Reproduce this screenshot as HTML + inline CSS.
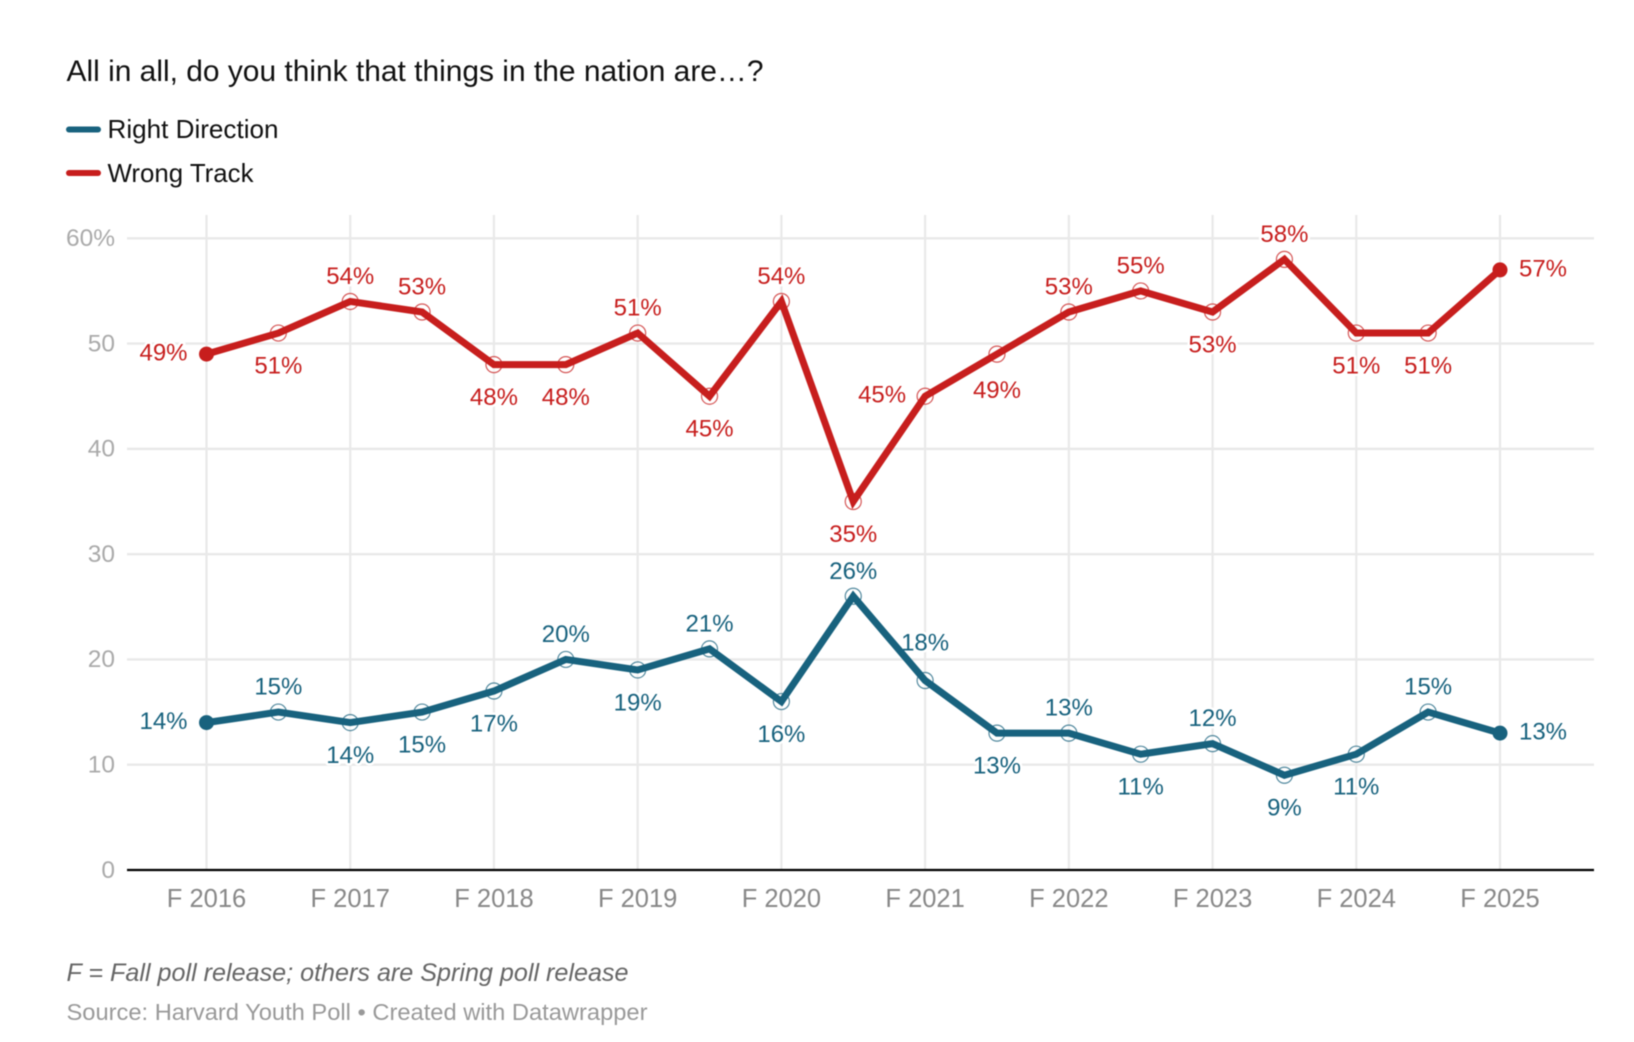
<!DOCTYPE html>
<html lang="en">
<head>
<meta charset="utf-8">
<title>All in all, do you think that things in the nation are…?</title>
<style>
html,body{margin:0;padding:0;background:#fff;}
body{width:1634px;height:1042px;overflow:hidden;}
svg{display:block;font-family:"Liberation Sans",sans-serif;filter:blur(0.4px);}
</style>
</head>
<body>
<svg id="chart" width="1634" height="1042" viewBox="0 0 1634 1042" xmlns="http://www.w3.org/2000/svg">
  <rect x="0" y="0" width="1634" height="1042" fill="#ffffff"/>
  <text x="66.5" y="81" font-size="29.5" fill="#111111" textLength="697" lengthAdjust="spacingAndGlyphs">All in all, do you think that things in the nation are…?</text>
  <g>
    <g>
      <line x1="69" x2="98" y1="129.5" y2="129.5" stroke="#18627e" stroke-width="6" stroke-linecap="round"/>
      <text x="107.5" y="138" font-size="26" fill="#111111" textLength="171" lengthAdjust="spacingAndGlyphs">Right Direction</text>
    </g>
    <g>
      <line x1="69" x2="98" y1="173" y2="173" stroke="#c71e1d" stroke-width="6" stroke-linecap="round"/>
      <text x="107.5" y="182" font-size="26" fill="#111111" textLength="146" lengthAdjust="spacingAndGlyphs">Wrong Track</text>
    </g>
  </g>
  <g id="grid"></g>
  <g id="axes"></g>
  <g id="series"></g>
  <text x="66.5" y="981" font-size="25" font-style="italic" fill="#666666" textLength="562" lengthAdjust="spacingAndGlyphs">F = Fall poll release; others are Spring poll release</text>
  <text x="66.5" y="1020" font-size="23.5" fill="#999999" textLength="581" lengthAdjust="spacingAndGlyphs">Source: Harvard Youth Poll • Created with Datawrapper</text>
</svg>
<script>
const categories = ["F 2016","S 2017","F 2017","S 2018","F 2018","S 2019","F 2019","S 2020","F 2020","S 2021","F 2021","S 2022","F 2022","S 2023","F 2023","S 2024","F 2024","S 2025","F 2025"];
const xTickLabels = ["F 2016","F 2017","F 2018","F 2019","F 2020","F 2021","F 2022","F 2023","F 2024","F 2025"];
const yTicks = [0,10,20,30,40,50,60];
const wrongTrack = [49,51,54,53,48,48,51,45,54,35,45,49,53,55,53,58,51,51,57];
const rightDirection = [14,15,14,15,17,20,19,21,16,26,18,13,13,11,12,9,11,15,13];
const wrongTrackSides = ["left","below","above","above","below","below","above","below","above","below","left","below-far","above","above","below","above","below","below","right"];
const rightDirectionSides = ["left","above","below","below","below","above","below","above","below","above","above-far","below","above","below","above","below","below","above","right"];

const NS = "http://www.w3.org/2000/svg";
const plot = {left:206.5, right:1500, top:238.3, bottom:870, gridLeft:127, gridRight:1594, gridTop:215};
const yMax = 60;
function xScale(i){ return plot.left + (plot.right - plot.left) * i / (categories.length - 1); }
function yScale(v){ return plot.bottom - (plot.bottom - plot.top) * v / yMax; }
function make(tag, parent){
  const node = document.createElementNS(NS, tag);
  parent.appendChild(node);
  return node;
}
function put(node, props){
  for (const k in props) node.setAttribute(k, props[k]);
}

const grid = document.getElementById("grid");
const axes = document.getElementById("axes");
const seriesRoot = document.getElementById("series");

yTicks.forEach(function(t){
  if (t !== 0) {
    const g = make("line", grid);
    
    
    put(g, {x1:plot.gridLeft, x2:plot.gridRight, y1:yScale(t), y2:yScale(t), stroke:"#e9e9e9", "stroke-width":2.4});
  }
  const lab = make("text", axes);
  
  
  put(lab, {x:115, y:yScale(t) + 7.8, "text-anchor":"end", "font-size":24.5, fill:"#aaaaaa"});
  lab.textContent = t === yMax ? t + "%" : String(t);
});

xTickLabels.forEach(function(name){
  const i = categories.indexOf(name);
  const v = make("line", grid);
  
  
  put(v, {x1:xScale(i), x2:xScale(i), y1:plot.gridTop, y2:plot.bottom, stroke:"#e9e9e9", "stroke-width":2.2});
  const lab = make("text", axes);
  
  
  put(lab, {x:xScale(i), y:907, "text-anchor":"middle", "font-size":25.5, fill:"#888888"});
  lab.textContent = name;
});

const baseline = make("line", axes);


put(baseline, {x1:plot.gridLeft, x2:plot.gridRight, y1:yScale(0), y2:yScale(0), stroke:"#000000", "stroke-width":2.2});

function drawSeries(values, sides, color, key){
  const g = make("g", seriesRoot);
  
  

  values.forEach(function(val, i){
    const t = make("text", g);
    
    
    const side = sides[i];
    let lx = xScale(i), ly = yScale(val) + 6.5;
    if (side === "above") ly = yScale(val) - 17.5;
    if (side === "above-far") ly = yScale(val) - 30;
    if (side === "below") ly = yScale(val) + 40.3;
    if (side === "below-far") ly = yScale(val) + 44;
    if (side === "left") lx = xScale(i) - 43;
    if (side === "right") lx = xScale(i) + 43;
    put(t, {x:lx, y:ly, "text-anchor":"middle", "font-size":24, fill:color, stroke:"#ffffff", "stroke-width":5, "stroke-linejoin":"round", "paint-order":"stroke"});
    t.textContent = val + "%";
  });

  const last = values.length - 1;
  values.forEach(function(val, i){
    if (i === 0 || i === last) return;
    const c = make("circle", g);
    
    
    put(c, {cx:xScale(i), cy:yScale(val), r:8, fill:"#ffffff", "fill-opacity":0.55, stroke:color, "stroke-opacity":0.75, "stroke-width":1.2});
  });

  const line = make("polyline", g);
  
  
  put(line, {points:values.map(function(val, i){ return xScale(i) + "," + yScale(val); }).join(" "), fill:"none", stroke:color, "stroke-width":7, "stroke-linejoin":"miter", "stroke-linecap":"butt"});

  [0, last].forEach(function(i){
    const d = make("circle", g);
    
    
    put(d, {cx:xScale(i), cy:yScale(values[i]), r:7.5, fill:color});
  });
}
drawSeries(rightDirection, rightDirectionSides, "#18627e", "right-direction");
drawSeries(wrongTrack, wrongTrackSides, "#c71e1d", "wrong-track");
</script>
</body>
</html>
